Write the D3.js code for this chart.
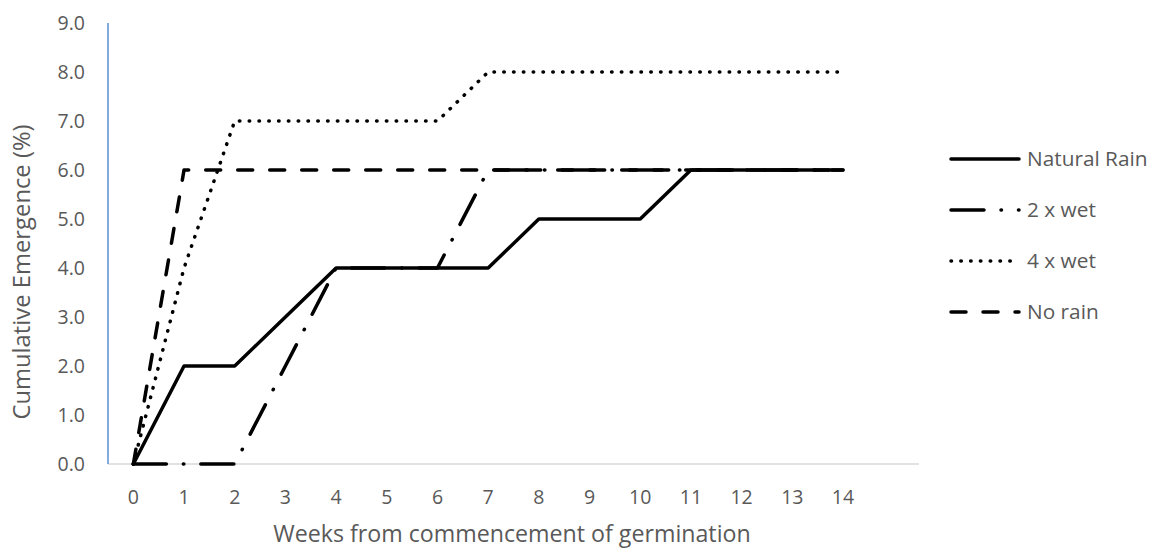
<!DOCTYPE html>
<html>
<head>
<meta charset="utf-8">
<script src="https://cdn.jsdelivr.net/npm/d3@7"></script>
<style>
  html, body { margin: 0; padding: 0; background: #fff; }
  svg { display: block; font-family: "Open Sans", "Noto Sans", sans-serif; }
</style>
</head>
<body>
<svg id="chart" width="1154" height="549"></svg>
<script>
// Weekly cumulative emergence (%) under four watering regimes
const weeks = ["0","1","2","3","4","5","6","7","8","9","10","11","12","13","14"];
const naturalRain = [0, 2, 2, 3, 4, 4, 4, 4, 5, 5, 5, 6, 6, 6, 6];
const twoXWet     = [0, 0, 0, 2, 4, 4, 4, 6, 6, 6, 6, 6, 6, 6, 6];
const fourXWet    = [0, 4, 7, 7, 7, 7, 7, 8, 8, 8, 8, 8, 8, 8, 8];
const noRain      = [0, 6, 6, 6, 6, 6, 6, 6, 6, 6, 6, 6, 6, 6, 6];
const yTicks = [0, 1, 2, 3, 4, 5, 6, 7, 8, 9];

const seriesNames = ["Natural Rain", "2 x wet", "4 x wet", "No rain"];
const seriesValues = [naturalRain, twoXWet, fourXWet, noRain];
const seriesDash = [null, "33,17,0.5,17", "0.5,9.3", "15,17"];

const textColor = "#595959";
const svg = d3.select("#chart");

// Plot area: the category axis reserves one empty slot after week 14
const plotLeft = 108, plotRight = 919, plotTop = 23, plotBottom = 464;
const slot = (plotRight - plotLeft) / (weeks.length + 1);

const x = d3.scaleBand()
  .domain(weeks)
  .range([plotLeft, plotLeft + slot * weeks.length])
  .paddingInner(0).paddingOuter(0);
const y = d3.scaleLinear().domain([0, 9]).range([plotBottom, plotTop]);

// X axis baseline
svg.append("line")
  .attr("x1", plotLeft).attr("x2", plotRight)
  .attr("y1", y(0)).attr("y2", y(0))
  .attr("stroke", "#d9d9d9").attr("stroke-width", 1.5);

// X tick labels
const xAxis = svg.append("g")
  .attr("transform", `translate(0,${y(0)})`)
  .call(d3.axisBottom(x).tickSize(0).tickPadding(26));
xAxis.select(".domain").remove();
xAxis.selectAll("text")
  .attr("fill", textColor)
  .style("font-size", "19.5px")
  .style("font-family", "'Open Sans', sans-serif");

// Y axis line and labels
svg.append("line")
  .attr("x1", plotLeft).attr("x2", plotLeft)
  .attr("y1", y(9)).attr("y2", y(0))
  .attr("stroke", "#5b8fd6").attr("stroke-width", 1.5);

const yAxis = svg.append("g")
  .attr("transform", `translate(${plotLeft},0)`)
  .call(d3.axisLeft(y).tickValues(yTicks).tickFormat(d3.format(".1f")).tickSize(0).tickPadding(23));
yAxis.select(".domain").remove();
yAxis.selectAll("text")
  .attr("fill", textColor)
  .style("font-size", "19.5px")
  .style("font-family", "'Open Sans', sans-serif");

// Axis titles
svg.append("text")
  .attr("x", 512)
  .attr("y", 542)
  .attr("text-anchor", "middle")
  .attr("fill", textColor)
  .style("font-size", "23.2px")
  .text("Weeks from commencement of germination");

svg.append("text")
  .attr("transform", "translate(29.5,272) rotate(-90)")
  .attr("text-anchor", "middle")
  .attr("fill", textColor)
  .style("font-size", "23.8px")
  .text("Cumulative Emergence (%)");

// Series lines
const line = d3.line()
  .x((d, i) => x(weeks[i]) + x.bandwidth() / 2)
  .y(d => y(d));

seriesValues.forEach((vals, k) => {
  svg.append("path")
    .datum(vals)
    .attr("d", line)
    .attr("fill", "none")
    .attr("stroke", "#000")
    .attr("stroke-width", 3.5)
    .attr("stroke-linejoin", "round")
    .attr("stroke-linecap", "round")
    .attr("stroke-dasharray", seriesDash[k]);
});

// Legend
const legend = svg.append("g");
seriesNames.forEach((name, k) => {
  const ly = 159 + k * 51;
  legend.append("line")
    .attr("x1", 951).attr("x2", 1019)
    .attr("y1", ly).attr("y2", ly)
    .attr("stroke", "#000")
    .attr("stroke-width", 3.5)
    .attr("stroke-linecap", "round")
    .attr("stroke-dasharray", seriesDash[k]);
  legend.append("text")
    .attr("x", 1027).attr("y", ly)
    .attr("dy", "0.35em")
    .attr("fill", textColor)
    .style("font-size", "20.8px")
    .text(name);
});
</script>
</body>
</html>
